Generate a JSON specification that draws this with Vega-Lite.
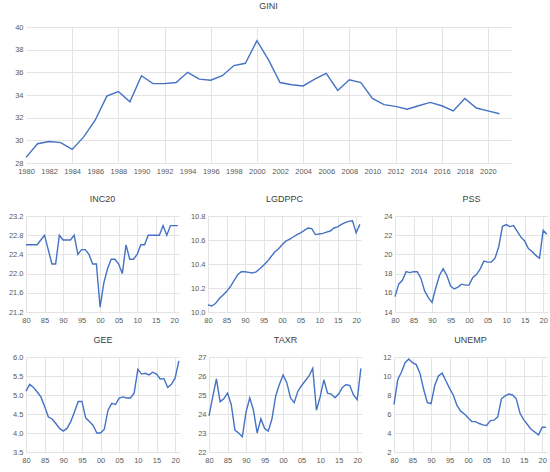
{
  "$schema": "https://vega.github.io/schema/vega-lite/v6.json",
  "padding": {"left": 2, "top": 2, "right": 2, "bottom": 2},
  "data": {
    "values": [
      {"year": 1980, "GINI": 28.5, "INC20": 22.6, "LGDPPC": 10.06, "PSS": 15.6, "GEE": 5.1, "TAXR": 23.9, "UNEMP": 7.0},
      {"year": 1981, "GINI": 29.7, "INC20": 22.6, "LGDPPC": 10.05, "PSS": 16.9, "GEE": 5.28, "TAXR": 24.9, "UNEMP": 9.6},
      {"year": 1982, "GINI": 29.9, "INC20": 22.6, "LGDPPC": 10.07, "PSS": 17.3, "GEE": 5.2, "TAXR": 25.85, "UNEMP": 10.4},
      {"year": 1983, "GINI": 29.8, "INC20": 22.6, "LGDPPC": 10.11, "PSS": 18.2, "GEE": 5.08, "TAXR": 24.65, "UNEMP": 11.4},
      {"year": 1984, "GINI": 29.2, "INC20": 22.7, "LGDPPC": 10.14, "PSS": 18.1, "GEE": 4.95, "TAXR": 24.8, "UNEMP": 11.8},
      {"year": 1985, "GINI": 30.3, "INC20": 22.8, "LGDPPC": 10.17, "PSS": 18.2, "GEE": 4.7, "TAXR": 25.1, "UNEMP": 11.4},
      {"year": 1986, "GINI": 31.8, "INC20": 22.5, "LGDPPC": 10.21, "PSS": 18.2, "GEE": 4.42, "TAXR": 24.5, "UNEMP": 11.2},
      {"year": 1987, "GINI": 33.9, "INC20": 22.2, "LGDPPC": 10.26, "PSS": 17.5, "GEE": 4.37, "TAXR": 23.15, "UNEMP": 10.3},
      {"year": 1988, "GINI": 34.3, "INC20": 22.2, "LGDPPC": 10.31, "PSS": 16.2, "GEE": 4.25, "TAXR": 23.0, "UNEMP": 8.6},
      {"year": 1989, "GINI": 33.4, "INC20": 22.8, "LGDPPC": 10.335, "PSS": 15.5, "GEE": 4.12, "TAXR": 22.8, "UNEMP": 7.2},
      {"year": 1990, "GINI": 35.7, "INC20": 22.7, "LGDPPC": 10.335, "PSS": 15.0, "GEE": 4.05, "TAXR": 24.1, "UNEMP": 7.1},
      {"year": 1991, "GINI": 35.0, "INC20": 22.7, "LGDPPC": 10.33, "PSS": 16.5, "GEE": 4.12, "TAXR": 24.85, "UNEMP": 9.0},
      {"year": 1992, "GINI": 35.0, "INC20": 22.7, "LGDPPC": 10.325, "PSS": 17.8, "GEE": 4.3, "TAXR": 24.2, "UNEMP": 10.0},
      {"year": 1993, "GINI": 35.1, "INC20": 22.8, "LGDPPC": 10.335, "PSS": 18.5, "GEE": 4.55, "TAXR": 23.0, "UNEMP": 10.3},
      {"year": 1994, "GINI": 36.0, "INC20": 22.4, "LGDPPC": 10.36, "PSS": 17.8, "GEE": 4.83, "TAXR": 23.75, "UNEMP": 9.5},
      {"year": 1995, "GINI": 35.4, "INC20": 22.5, "LGDPPC": 10.39, "PSS": 16.7, "GEE": 4.83, "TAXR": 23.25, "UNEMP": 8.7},
      {"year": 1996, "GINI": 35.3, "INC20": 22.5, "LGDPPC": 10.42, "PSS": 16.4, "GEE": 4.4, "TAXR": 23.1, "UNEMP": 8.0},
      {"year": 1997, "GINI": 35.7, "INC20": 22.4, "LGDPPC": 10.46, "PSS": 16.6, "GEE": 4.3, "TAXR": 23.75, "UNEMP": 6.9},
      {"year": 1998, "GINI": 36.6, "INC20": 22.2, "LGDPPC": 10.5, "PSS": 16.9, "GEE": 4.2, "TAXR": 24.95, "UNEMP": 6.3},
      {"year": 1999, "GINI": 36.8, "INC20": 22.2, "LGDPPC": 10.525, "PSS": 16.8, "GEE": 4.0, "TAXR": 25.55, "UNEMP": 6.0},
      {"year": 2000, "GINI": 38.8, "INC20": 21.3, "LGDPPC": 10.56, "PSS": 16.8, "GEE": 4.0, "TAXR": 26.05, "UNEMP": 5.6},
      {"year": 2001, "GINI": 37.1, "INC20": 21.8, "LGDPPC": 10.59, "PSS": 17.6, "GEE": 4.1, "TAXR": 25.65, "UNEMP": 5.2},
      {"year": 2002, "GINI": 35.1, "INC20": 22.1, "LGDPPC": 10.605, "PSS": 17.9, "GEE": 4.6, "TAXR": 24.85, "UNEMP": 5.2},
      {"year": 2003, "GINI": 34.9, "INC20": 22.3, "LGDPPC": 10.625, "PSS": 18.5, "GEE": 4.78, "TAXR": 24.6, "UNEMP": 5.0},
      {"year": 2004, "GINI": 34.8, "INC20": 22.3, "LGDPPC": 10.645, "PSS": 19.3, "GEE": 4.75, "TAXR": 25.2, "UNEMP": 4.85},
      {"year": 2005, "GINI": 35.4, "INC20": 22.2, "LGDPPC": 10.66, "PSS": 19.2, "GEE": 4.92, "TAXR": 25.5, "UNEMP": 4.8},
      {"year": 2006, "GINI": 35.9, "INC20": 22.0, "LGDPPC": 10.68, "PSS": 19.2, "GEE": 4.95, "TAXR": 25.75, "UNEMP": 5.3},
      {"year": 2007, "GINI": 34.4, "INC20": 22.6, "LGDPPC": 10.7, "PSS": 19.6, "GEE": 4.92, "TAXR": 26.0, "UNEMP": 5.35},
      {"year": 2008, "GINI": 35.35, "INC20": 22.3, "LGDPPC": 10.695, "PSS": 20.8, "GEE": 4.92, "TAXR": 26.4, "UNEMP": 5.7},
      {"year": 2009, "GINI": 35.1, "INC20": 22.3, "LGDPPC": 10.645, "PSS": 22.9, "GEE": 5.05, "TAXR": 24.2, "UNEMP": 7.6},
      {"year": 2010, "GINI": 33.7, "INC20": 22.4, "LGDPPC": 10.65, "PSS": 23.1, "GEE": 5.68, "TAXR": 24.9, "UNEMP": 7.9},
      {"year": 2011, "GINI": 33.15, "INC20": 22.6, "LGDPPC": 10.655, "PSS": 22.9, "GEE": 5.55, "TAXR": 25.8, "UNEMP": 8.1},
      {"year": 2012, "GINI": 33.0, "INC20": 22.6, "LGDPPC": 10.665, "PSS": 23.0, "GEE": 5.57, "TAXR": 25.1, "UNEMP": 8.0},
      {"year": 2013, "GINI": 32.75, "INC20": 22.8, "LGDPPC": 10.675, "PSS": 22.4, "GEE": 5.53, "TAXR": 25.05, "UNEMP": 7.6},
      {"year": 2014, "GINI": 33.05, "INC20": 22.8, "LGDPPC": 10.7, "PSS": 21.8, "GEE": 5.6, "TAXR": 24.85, "UNEMP": 6.1},
      {"year": 2015, "GINI": 33.35, "INC20": 22.8, "LGDPPC": 10.71, "PSS": 21.4, "GEE": 5.55, "TAXR": 25.05, "UNEMP": 5.4},
      {"year": 2016, "GINI": 33.05, "INC20": 22.8, "LGDPPC": 10.73, "PSS": 20.6, "GEE": 5.42, "TAXR": 25.4, "UNEMP": 4.9},
      {"year": 2017, "GINI": 32.6, "INC20": 23.0, "LGDPPC": 10.745, "PSS": 20.3, "GEE": 5.43, "TAXR": 25.55, "UNEMP": 4.4},
      {"year": 2018, "GINI": 33.7, "INC20": 22.8, "LGDPPC": 10.755, "PSS": 19.9, "GEE": 5.2, "TAXR": 25.5, "UNEMP": 4.1},
      {"year": 2019, "GINI": 32.85, "INC20": 23.0, "LGDPPC": 10.76, "PSS": 19.6, "GEE": 5.28, "TAXR": 25.0, "UNEMP": 3.8},
      {"year": 2020, "GINI": 32.6, "INC20": 23.0, "LGDPPC": 10.66, "PSS": 22.5, "GEE": 5.45, "TAXR": 24.75, "UNEMP": 4.6},
      {"year": 2021, "GINI": 32.35, "INC20": 23.0, "LGDPPC": 10.73, "PSS": 22.1, "GEE": 5.9, "TAXR": 26.4, "UNEMP": 4.6}
    ]
  },
  "config": {
    "view": {"stroke": null},
    "font": "Liberation Sans",
    "axis": {
      "domain": false,
      "ticks": false,
      "title": null,
      "gridColor": "#e4e4e4",
      "gridWidth": 1,
      "labelColor": "#595959",
      "labelFont": "Liberation Sans",
      "labelFontSize": 7.5,
      "labelPadding": 3,
      "labelOverlap": false
    },
    "axisX": {"labelAngle": 0, "labelPadding": 4, "labelFlush": false},
    "title": {"font": "Liberation Sans", "fontSize": 9, "fontWeight": "normal", "color": "#404040", "anchor": "middle", "offset": 8},
    "line": {"color": "#4472C4", "strokeWidth": 1.4}
  },
  "columns": 1,
  "align": "none",
  "spacing": 20,
  "concat": [
    {
      "title": {"text": "GINI", "offset": 12},
      "width": 485,
      "height": 136,
      "mark": "line",
      "encoding": {
        "x": {
          "field": "year", "type": "quantitative",
          "scale": {"domain": [1980, 2022], "nice": false, "zero": false},
          "axis": {
            "values": [1980, 1982, 1984, 1986, 1988, 1990, 1992, 1994, 1996, 1998, 2000, 2002, 2004, 2006, 2008, 2010, 2012, 2014, 2016, 2018, 2020],
            "format": "d",
            "gridOpacity": {"condition": {"test": "datum.value % 4 == 0 && datum.value > 1980", "value": 1}, "value": 0}
          }
        },
        "y": {
          "field": "GINI", "type": "quantitative",
          "scale": {"domain": [28, 40], "nice": false, "zero": false},
          "axis": {"values": [28, 30, 32, 34, 36, 38, 40], "minExtent": 24, "maxExtent": 24}
        }
      }
    },
    {
      "columns": 1,
      "align": "none",
      "spacing": 12,
      "concat": [
        {
          "spacing": 8,
          "hconcat": [
            {
              "title": "INC20",
              "width": 153,
              "height": 96,
              "mark": "line",
              "encoding": {
                "x": {
                  "field": "year", "type": "quantitative",
                  "scale": {"domain": [1980, 2021.3], "nice": false, "zero": false},
                  "axis": {"values": [1980, 1985, 1990, 1995, 2000, 2005, 2010, 2015, 2020], "labelExpr": "(datum.value % 100 < 10 ? '0' : '') + (datum.value % 100)"}
                },
                "y": {
                  "field": "INC20", "type": "quantitative",
                  "scale": {"domain": [21.2, 23.2], "nice": false, "zero": false},
                  "axis": {"values": [21.2, 21.6, 22.0, 22.4, 22.8, 23.2], "format": ".1f", "minExtent": 19, "maxExtent": 19}
                }
              }
            },
            {
              "title": "LGDPPC",
              "width": 153,
              "height": 96,
              "mark": "line",
              "encoding": {
                "x": {
                  "field": "year", "type": "quantitative",
                  "scale": {"domain": [1980, 2021.3], "nice": false, "zero": false},
                  "axis": {"values": [1980, 1985, 1990, 1995, 2000, 2005, 2010, 2015, 2020], "labelExpr": "(datum.value % 100 < 10 ? '0' : '') + (datum.value % 100)"}
                },
                "y": {
                  "field": "LGDPPC", "type": "quantitative",
                  "scale": {"domain": [10.0, 10.8], "nice": false, "zero": false},
                  "axis": {"values": [10.0, 10.2, 10.4, 10.6, 10.8], "format": ".1f", "minExtent": 19, "maxExtent": 19}
                }
              }
            },
            {
              "title": "PSS",
              "width": 153,
              "height": 96,
              "mark": "line",
              "encoding": {
                "x": {
                  "field": "year", "type": "quantitative",
                  "scale": {"domain": [1980, 2021.3], "nice": false, "zero": false},
                  "axis": {"values": [1980, 1985, 1990, 1995, 2000, 2005, 2010, 2015, 2020], "labelExpr": "(datum.value % 100 < 10 ? '0' : '') + (datum.value % 100)"}
                },
                "y": {
                  "field": "PSS", "type": "quantitative",
                  "scale": {"domain": [14, 24], "nice": false, "zero": false},
                  "axis": {"values": [14, 16, 18, 20, 22, 24], "minExtent": 24, "maxExtent": 24}
                }
              }
            }
          ]
        },
        {
          "spacing": 8,
          "hconcat": [
            {
              "title": "GEE",
              "width": 154,
              "height": 95,
              "mark": "line",
              "encoding": {
                "x": {
                  "field": "year", "type": "quantitative",
                  "scale": {"domain": [1980, 2021.3], "nice": false, "zero": false},
                  "axis": {"values": [1980, 1985, 1990, 1995, 2000, 2005, 2010, 2015, 2020], "labelExpr": "(datum.value % 100 < 10 ? '0' : '') + (datum.value % 100)"}
                },
                "y": {
                  "field": "GEE", "type": "quantitative",
                  "scale": {"domain": [3.5, 6.0], "nice": false, "zero": false},
                  "axis": {"values": [3.5, 4.0, 4.5, 5.0, 5.5, 6.0], "format": ".1f", "minExtent": 15, "maxExtent": 15}
                }
              }
            },
            {
              "title": "TAXR",
              "width": 153,
              "height": 95,
              "mark": "line",
              "encoding": {
                "x": {
                  "field": "year", "type": "quantitative",
                  "scale": {"domain": [1980, 2021.3], "nice": false, "zero": false},
                  "axis": {"values": [1980, 1985, 1990, 1995, 2000, 2005, 2010, 2015, 2020], "labelExpr": "(datum.value % 100 < 10 ? '0' : '') + (datum.value % 100)"}
                },
                "y": {
                  "field": "TAXR", "type": "quantitative",
                  "scale": {"domain": [22, 27], "nice": false, "zero": false},
                  "axis": {"values": [22, 23, 24, 25, 26, 27], "minExtent": 19, "maxExtent": 19}
                }
              }
            },
            {
              "title": "UNEMP",
              "width": 153,
              "height": 95,
              "mark": "line",
              "encoding": {
                "x": {
                  "field": "year", "type": "quantitative",
                  "scale": {"domain": [1980, 2021.3], "nice": false, "zero": false},
                  "axis": {"values": [1980, 1985, 1990, 1995, 2000, 2005, 2010, 2015, 2020], "labelExpr": "(datum.value % 100 < 10 ? '0' : '') + (datum.value % 100)"}
                },
                "y": {
                  "field": "UNEMP", "type": "quantitative",
                  "scale": {"domain": [2, 12], "nice": false, "zero": false},
                  "axis": {"values": [2, 4, 6, 8, 10, 12], "minExtent": 22, "maxExtent": 22}
                }
              }
            }
          ]
        }
      ]
    }
  ]
}
